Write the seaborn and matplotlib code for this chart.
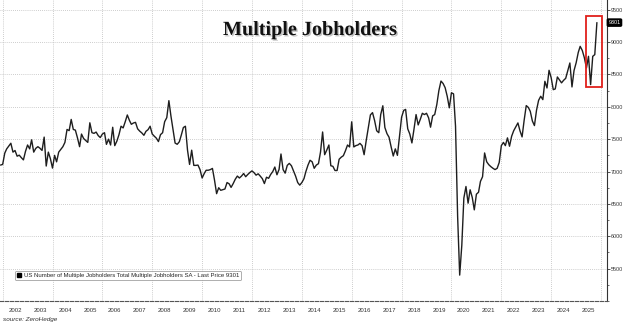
import matplotlib
matplotlib.use("Agg")
import matplotlib.pyplot as plt
import matplotlib.dates as mdates
import matplotlib.patheffects as pe
from matplotlib.lines import Line2D
from matplotlib.patches import Rectangle
import numpy as np
import pandas as pd
import seaborn as sns

# ---- data -------------------------------------------------------------
title_text = "Multiple Jobholders"
legend_text = ("US Number of Multiple Jobholders Total Multiple Jobholders SA"
               " - Last Price {:.0f}")
source_text = "source: ZeroHedge"
first_month = "2001-11-30"

# monthly level, thousands (Nov 2001 onwards)
jobholders = [
    7100, 7110,                                                              # 2001
    7285, 7350, 7395, 7437, 7300, 7325, 7237, 7253, 7215, 7180, 7310, 7410,  # 2002
    7350, 7490, 7300, 7358, 7384, 7360, 7326, 7532, 7085, 7300, 7200, 7053,  # 2003
    7250, 7150, 7300, 7342, 7384, 7450, 7650, 7632, 7805, 7650, 7640, 7520,  # 2004
    7384, 7579, 7510, 7480, 7450, 7753, 7600, 7590, 7610, 7555, 7525, 7579,  # 2005
    7600, 7420, 7500, 7410, 7684, 7400, 7470, 7570, 7700, 7674, 7768, 7874,  # 2006
    7790, 7730, 7750, 7760, 7660, 7625, 7597, 7560, 7621, 7647, 7700, 7580,  # 2007
    7545, 7516, 7463, 7570, 7600, 7770, 7832, 8095, 7858, 7640, 7440, 7421,  # 2008
    7460, 7560, 7680, 7700, 7330, 7110, 7330, 7095, 7095, 7100, 7030, 6900,  # 2009
    6970, 7020, 7020, 7030, 7048, 6870, 6658, 6750, 6710, 6720, 6730, 6830,  # 2010
    6810, 6755, 6814, 6880, 6930, 6900, 6930, 6970, 6920, 6955, 6985, 7010,  # 2011
    6982, 6944, 6965, 6930, 6890, 6814, 6912, 6895, 6955, 7000, 7070, 6950,  # 2012
    7032, 7271, 7030, 6975, 7095, 7126, 7090, 7010, 6930, 6830, 6790, 6830,  # 2013
    6890, 7000, 7100, 7174, 7150, 7050, 7100, 7121, 7300, 7611, 7260, 7332,  # 2014
    7410, 7090, 7080, 7016, 7016, 7190, 7222, 7245, 7320, 7410, 7380, 7768,  # 2015
    7380, 7400, 7410, 7435, 7400, 7260, 7480, 7680, 7875, 7910, 7790, 7630,  # 2016
    7600, 7880, 8016, 7680, 7585, 7530, 7380, 7240, 7350, 7250, 7540, 7840,  # 2017
    7945, 7960, 7660, 7580, 7442, 7650, 7880, 7720, 7804, 7900, 7880, 7900,  # 2018
    7829, 7685, 7860, 7880, 8036, 8250, 8398, 8360, 8295, 8160, 7984, 8217,  # 2019
    8200, 7700, 6300, 5400, 5860, 6590, 6769, 6511, 6718, 6600, 6408, 6650,  # 2020
    6680, 6847, 6920, 7287, 7150, 7106, 7075, 7050, 7030, 7050, 7140, 7400,  # 2021
    7450, 7400, 7520, 7391, 7545, 7630, 7690, 7751, 7630, 7535, 7790, 8019,  # 2022
    7990, 7930, 7780, 7710, 7950, 8100, 8163, 8111, 8394, 8291, 8564, 8450,  # 2023
    8265, 8276, 8461, 8415, 8370, 8409, 8440, 8560, 8677, 8307, 8560, 8680,  # 2024
    8840, 8934, 8870, 8760, 8600, 8780, 8343, 8780, 8806, 9301,              # 2025
]

year_labels = list(range(2002, 2026))
y_ticks = list(range(5500, 9501, 500))

# ---- figure -----------------------------------------------------------
sns.set_style("white")
plt.rcParams["font.family"] = ["Liberation Sans", "DejaVu Sans"]

dates = pd.date_range(first_month, periods=len(jobholders), freq="ME")
df = pd.DataFrame({"date": dates, "value": jobholders})

fig = plt.figure(figsize=(6.24, 3.26), dpi=100)
ax = fig.add_axes([0.0, 25 / 326, 607 / 624, 301 / 326])

sns.lineplot(data=df, x="date", y="value", ax=ax, color="#1e1e1e",
             linewidth=1.0, legend=False)

# axis ranges
ax.set_xlim(pd.Timestamp("2001-11-22"), pd.Timestamp("2026-03-28"))
ax.set_ylim(5000, 9650)

# right-hand value axis
ax.yaxis.tick_right()
ax.set_yticks(y_ticks)
ax.yaxis.set_minor_locator(matplotlib.ticker.MultipleLocator(250))
ax.tick_params(axis="y", which="major", direction="out", length=2,
               width=0.6, labelsize=3.9, labelcolor="#333333", pad=0.8,
               color="#333333")
ax.tick_params(axis="y", which="minor", direction="out", length=1.2,
               width=0.5, color="#333333")
ax.set_xlabel("")
ax.set_ylabel("")

# year separators as long ticks, year names centred between them
sep_dates = [pd.Timestamp(f"{y}-01-01") for y in year_labels + [2026]]
mid_dates = [pd.Timestamp(f"{y}-07-01") for y in year_labels]
ax.set_xticks(sep_dates)
ax.set_xticklabels([])
ax.set_xticks(mid_dates, minor=True)
ax.set_xticklabels([str(y) for y in year_labels], minor=True)
ax.tick_params(axis="x", which="major", direction="out", length=11,
               width=0.6, color="#555555")
ax.tick_params(axis="x", which="minor", length=0, labelsize=4.3,
               labelcolor="#333333", pad=5)

# dotted grid
ax.grid(axis="y", which="major", linestyle=(0, (1, 1.5)), color="#bdbdbd",
        linewidth=0.6)
for y in range(2002, 2027, 2):
    ax.axvline(pd.Timestamp(f"{y}-01-01"), linestyle=(0, (1, 1.5)),
               color="#bdbdbd", linewidth=0.6, zorder=0)

for side in ("left", "top"):
    ax.spines[side].set_visible(False)
ax.spines["right"].set_color("#333333")
ax.spines["right"].set_linewidth(0.8)
ax.spines["bottom"].set_color("#555555")
ax.spines["bottom"].set_linewidth(0.8)
ax.spines["bottom"].set_linestyle((0, (3, 1.5)))

# highlight of the latest months
x0 = mdates.date2num(pd.Timestamp("2025-05-25"))
x1 = mdates.date2num(pd.Timestamp("2026-01-10"))
ax.add_patch(Rectangle((x0, 8306), x1 - x0, 9403 - 8306, fill=False,
                       edgecolor="#e0201b", linewidth=1.3, zorder=5))

# last price tag on the value axis
last = jobholders[-1]
ax.annotate(f"{last:.0f}", xy=(1, last), xycoords=("axes fraction", "data"),
            xytext=(1.0, 0), textcoords="offset points", ha="left",
            va="center", fontsize=3.9, color="white", annotation_clip=False,
            bbox=dict(boxstyle="round,pad=0.2", fc="black", ec="black"))

# legend
handle = Line2D([0], [0], marker="s", color="black", linestyle="none",
                markersize=3.4)
leg = ax.legend([handle], [legend_text.format(last)], loc="lower left",
                bbox_to_anchor=(15 / 607, 21 / 301), fontsize=4.3,
                frameon=True, fancybox=True, edgecolor="#8a8a8a",
                handlelength=0.8, handletextpad=0.3, borderpad=0.35,
                borderaxespad=0)
leg.get_frame().set_linewidth(0.6)

# title and source
fig.text(310 / 624, 1 - 30 / 326, title_text, ha="center", va="center",
         fontfamily=["Liberation Serif", "DejaVu Serif"], fontweight="bold",
         fontsize=14.5, color="#111111",
         path_effects=[pe.withSimplePatchShadow(offset=(1, -1),
                                                shadow_rgbFace="#999999",
                                                alpha=0.6)])
fig.text(3 / 624, 1 - 320 / 326, source_text, ha="left", va="center",
         fontsize=4.6, style="italic", color="#333333")

fig.savefig("out.png", dpi=100, facecolor="white")
